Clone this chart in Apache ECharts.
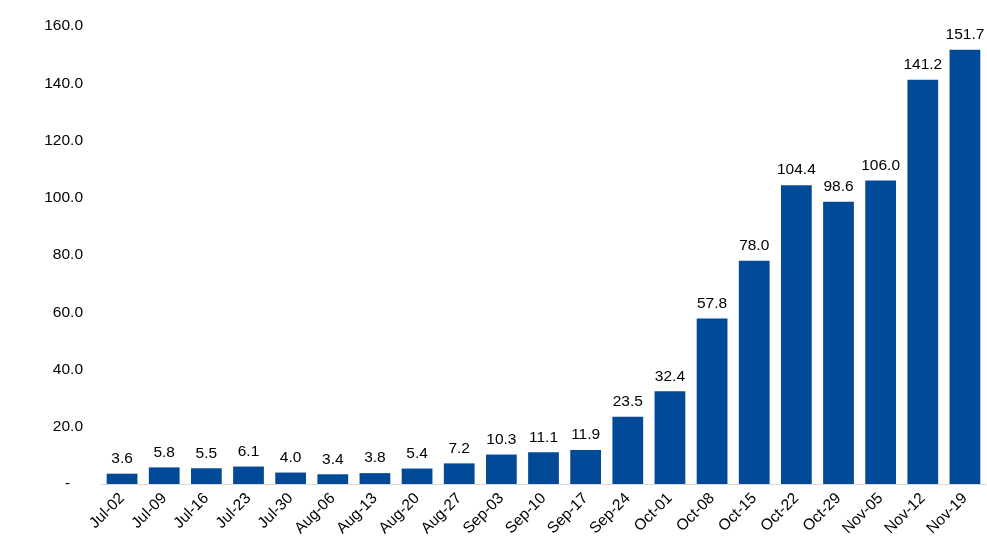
<!DOCTYPE html>
<html><head><meta charset="utf-8">
<script src="https://cdn.jsdelivr.net/npm/echarts@6/dist/echarts.min.js"></script>
<style>html,body{margin:0;padding:0;background:#fff}#c{width:987px;height:558px}</style>
</head><body><div id="c"></div>
<script>
const categories = ["Jul-02","Jul-09","Jul-16","Jul-23","Jul-30","Aug-06","Aug-13","Aug-20","Aug-27","Sep-03","Sep-10","Sep-17","Sep-24","Oct-01","Oct-08","Oct-15","Oct-22","Oct-29","Nov-05","Nov-12","Nov-19"];
const values = [3.6,5.8,5.5,6.1,4.0,3.4,3.8,5.4,7.2,10.3,11.1,11.9,23.5,32.4,57.8,78.0,104.4,98.6,106.0,141.2,151.7];
const chart = echarts.init(document.getElementById('c'));
const FONT = 'Liberation Sans, Arial';
chart.setOption({
  animation:false,
  grid:{left:101,right:1,top:26,bottom:74,containLabel:false},
  xAxis:{type:'category',data:categories,
    axisLine:{lineStyle:{color:'#d9d9d9',width:1}},axisTick:{show:false},
    axisLabel:{rotate:45,color:'#000',fontFamily:FONT,fontSize:15.5,margin:12,interval:0}},
  yAxis:{type:'value',min:0,max:160,interval:20,splitLine:{show:false},axisLine:{show:false},axisTick:{show:false},
    axisLabel:{color:'#000',fontFamily:FONT,fontSize:15.5,margin:18,
      formatter:v=>v===0?'-   ':v.toFixed(1)}},
  series:[{type:'bar',data:values,barCategoryGap:'27%',itemStyle:{color:'#004A98'},
    label:{show:true,position:'top',distance:7,color:'#000',fontFamily:FONT,fontSize:15.5,formatter:p=>p.value.toFixed(1)}}]
});
</script></body></html>
